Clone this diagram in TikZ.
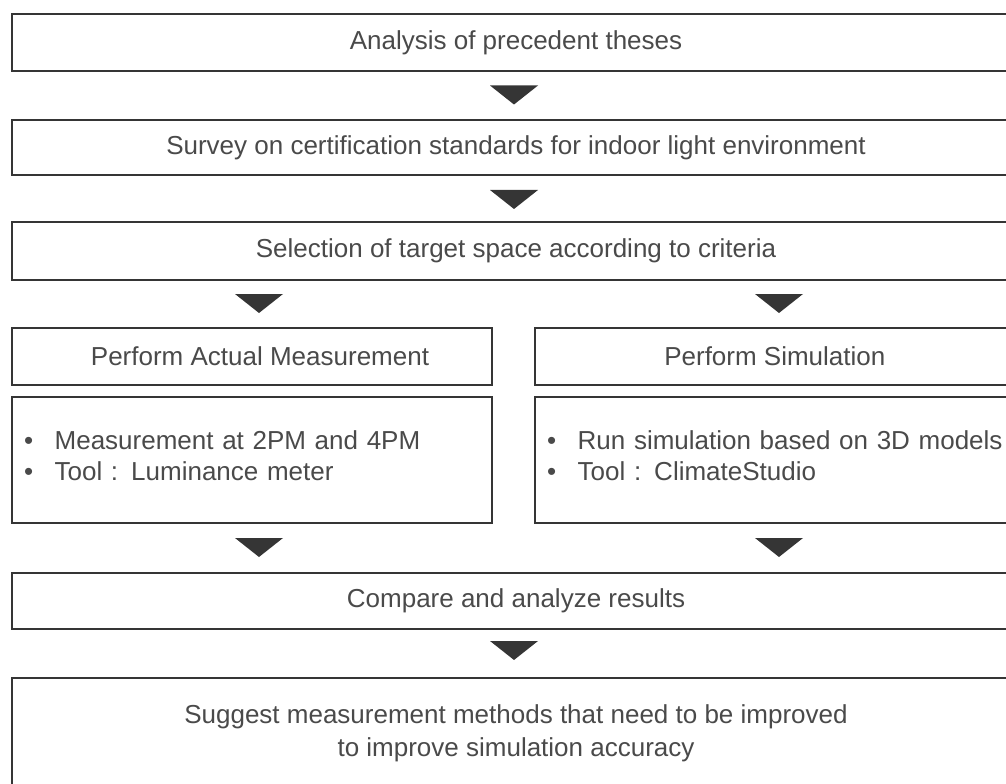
\documentclass[tikz,border=0pt]{standalone}
\usepackage{fontspec}
\setmainfont{Liberation Sans}
\definecolor{lin}{HTML}{353535}
\definecolor{txt}{HTML}{4A4A4A}
\begin{document}
\begin{tikzpicture}[x=0.75pt,y=-0.75pt,
  box/.style={draw=lin, line width=1.9pt, fill=white, rectangle, inner sep=0pt,
    text=txt, font=\fontsize{19.5}{23.5}\selectfont, align=center},
  list/.style={box, align=left, inner xsep=9pt},
  tri/.pic={\fill[lin] (-24,0) -- (24,0) -- (0,19) -- cycle;}]
\useasboundingbox (0,0) rectangle (1006,784);
\begin{scope}
\clip (0,0) rectangle (1006,784);
\node[box, minimum width=756pt, minimum height=42.75pt] (b1) at (516,42.5) {Analysis of precedent theses};
\node[box, minimum width=756pt, minimum height=41.25pt] (b2) at (516,147.5) {Survey on certification standards for indoor light environment};
\node[box, minimum width=756pt, minimum height=43.5pt] (b3) at (516,251) {Selection of target space according to criteria};
\node[box, minimum width=360pt, minimum height=42.75pt] (b4l) at (252,356.5) {\hspace{12pt}Perform Actual Measurement};
\node[box, minimum width=363.75pt, minimum height=42.75pt] (b4r) at (777.5,356.5) {\hspace{-4pt}Perform Simulation};
\node[list, text width=342pt, minimum height=94.5pt] (b5l) at (252,460)
  {\makebox[23pt][l]{\textbullet}Measurement at 2PM and 4PM\\\makebox[23pt][l]{\textbullet}Tool : Luminance meter\rule[-7pt]{0pt}{1pt}};
\node[list, text width=345.75pt, minimum height=94.5pt] (b5r) at (777.5,460)
  {\makebox[23pt][l]{\textbullet}Run simulation based on 3D models\\\makebox[23pt][l]{\textbullet}Tool : ClimateStudio\rule[-7pt]{0pt}{1pt}};
\node[box, minimum width=756pt, minimum height=42pt] (b6) at (516,601) {Compare and analyze results};
\node[box, minimum width=756pt, minimum height=82.5pt, font=\fontsize{19.5}{25}\selectfont] (b7) at (516,733)
  {Suggest measurement methods that need to be improved\\to improve simulation accuracy};
\end{scope}
\pic at (514,85.5) {tri};
\pic at (514,190) {tri};
\pic at (259,294) {tri};
\pic at (779,294) {tri};
\pic at (259,538) {tri};
\pic at (779,538) {tri};
\pic at (514,641) {tri};
\end{tikzpicture}
\end{document}
